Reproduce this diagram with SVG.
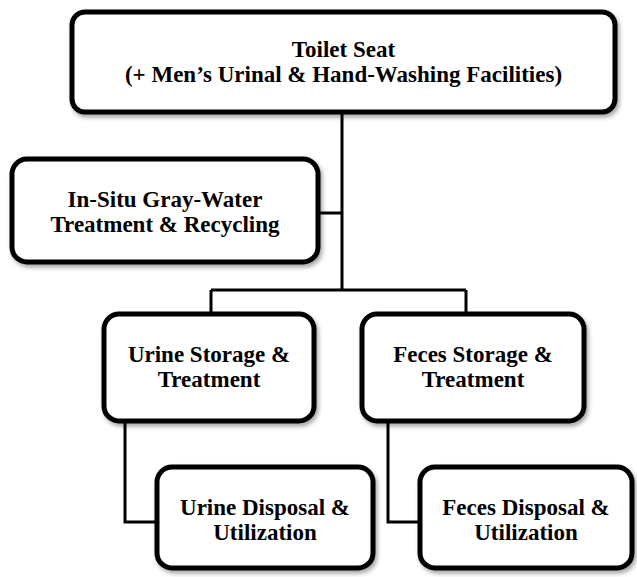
<svg xmlns="http://www.w3.org/2000/svg" width="637" height="577" viewBox="0 0 637 577">
<defs>
<filter id="sh" x="-10%" y="-10%" width="125%" height="130%">
<feDropShadow dx="2" dy="3" stdDeviation="2" flood-color="#000" flood-opacity="0.35"/>
</filter>
<style>
.box{fill:#fff;stroke:#000;stroke-width:5;filter:url(#sh)}
.conn{fill:none;stroke:#000;stroke-width:3}
text{font-family:"Liberation Serif","Times New Roman",serif;font-weight:bold;font-size:23px;text-anchor:middle;fill:#000}
</style>
</defs>
<rect width="637" height="577" fill="#fff"/>
<g id="connectors">
<path class="conn" d="M342 112 V290 M318 213 H342 M211 290 H466 M211 290 V314 M466 290 V314 M125 421 V522 H157 M388 421 V522 H420"/>
</g>
<g id="toilet">
<rect class="box" x="72" y="12" width="543" height="100" rx="13"/>
<text x="343.5" y="57">Toilet Seat</text>
<text x="343.5" y="82">(+ Men’s Urinal &amp; Hand-Washing Facilities)</text>
</g>
<g id="graywater">
<rect class="box" x="12" y="159" width="306" height="103" rx="15"/>
<text x="165" y="207">In-Situ Gray-Water</text>
<text x="165" y="232">Treatment &amp; Recycling</text>
</g>
<g id="urine-storage">
<rect class="box" x="104" y="314" width="210" height="107" rx="15"/>
<text x="209" y="362">Urine Storage &amp;</text>
<text x="209" y="387">Treatment</text>
</g>
<g id="feces-storage">
<rect class="box" x="362" y="314" width="222" height="107" rx="15"/>
<text x="473" y="362">Feces Storage &amp;</text>
<text x="473" y="387">Treatment</text>
</g>
<g id="urine-disposal">
<rect class="box" x="157" y="467" width="216" height="101" rx="15"/>
<text x="265" y="515">Urine Disposal &amp;</text>
<text x="265" y="540">Utilization</text>
</g>
<g id="feces-disposal">
<rect class="box" x="420" y="467" width="212" height="101" rx="15"/>
<text x="526" y="515">Feces Disposal &amp;</text>
<text x="526" y="540">Utilization</text>
</g>
</svg>
